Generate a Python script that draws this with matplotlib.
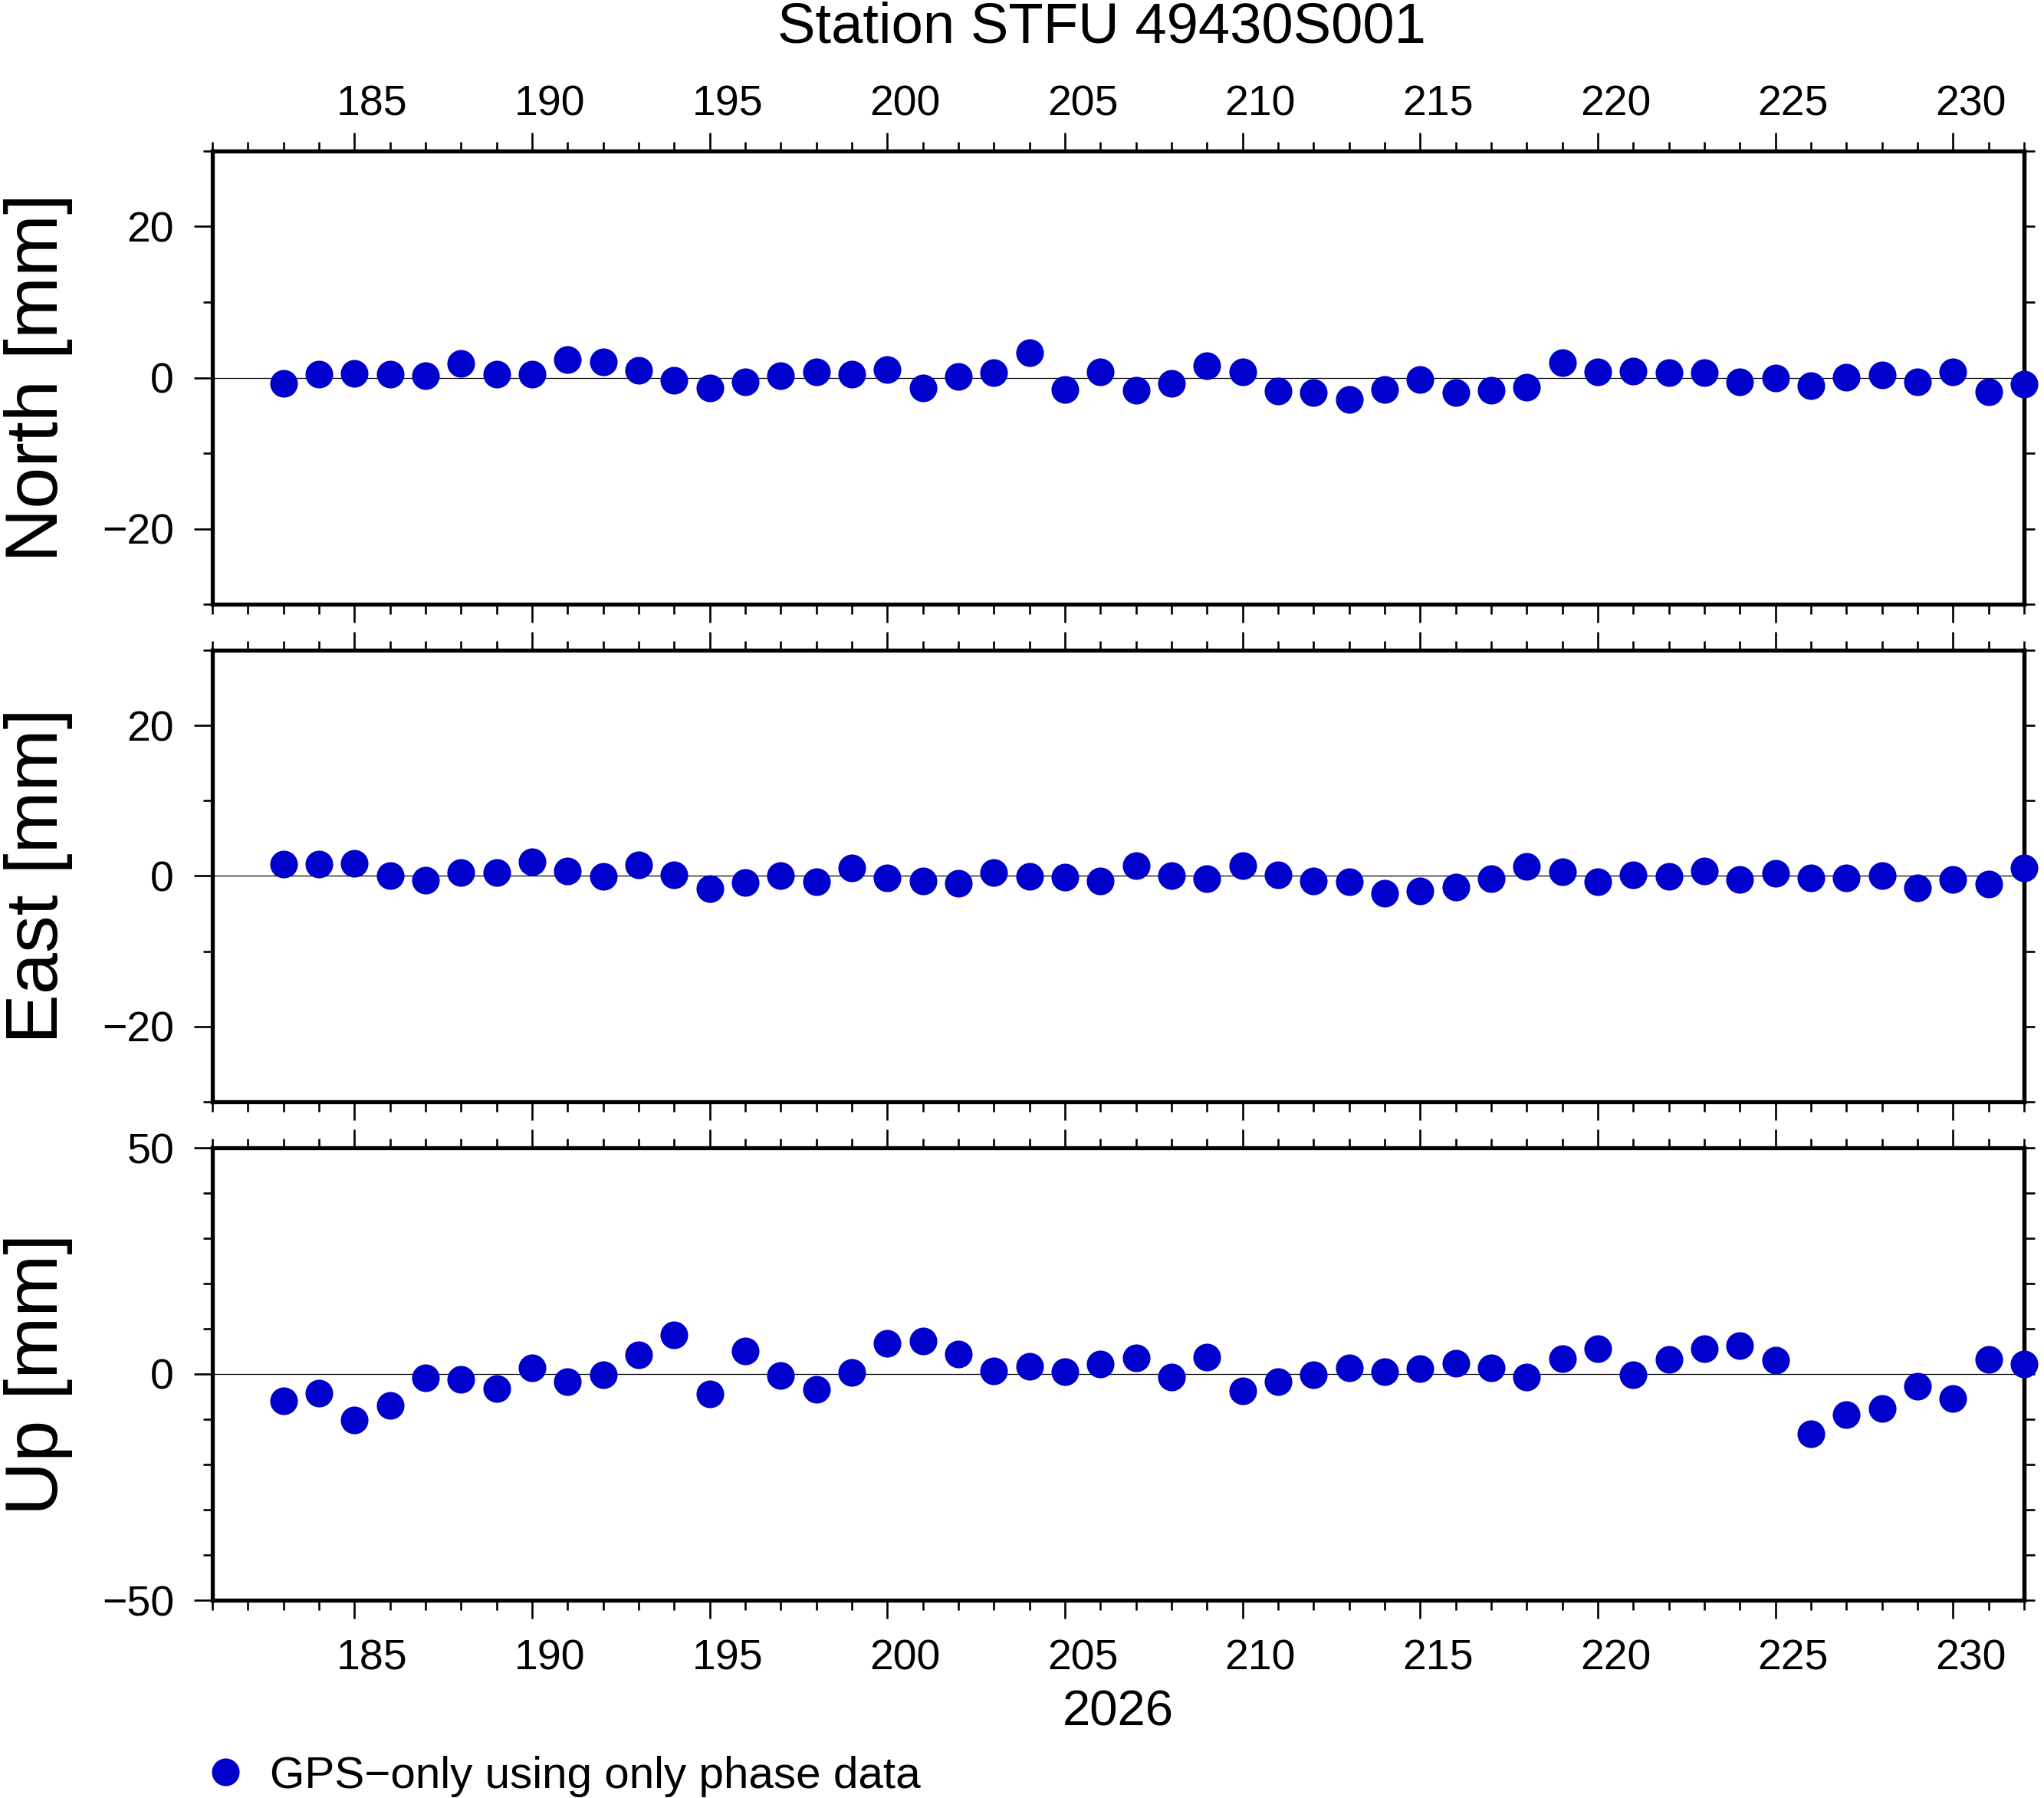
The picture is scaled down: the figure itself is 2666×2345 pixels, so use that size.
import matplotlib
matplotlib.use('Agg')
import matplotlib.pyplot as plt
from matplotlib.transforms import ScaledTranslation

# ---------------- data ----------------
days = list(range(183, 233))

north = [-0.8, 0.42, 0.59, 0.42, 0.29, 1.9, 0.49, 0.49, 2.41, 2.1,
         0.99, -0.32, -1.33, -0.52, 0.29, 0.79, 0.49, 1.09, -1.33, 0.19,
         0.69, 3.32, -1.53, 0.79, -1.63, -0.72, 1.6, 0.79, -1.73, -1.94,
         -2.85, -1.53, -0.22, -1.94, -1.63, -1.23, 2.0, 0.79, 0.89, 0.69,
         0.69, -0.52, -0.02, -1.03, 0.08, 0.39, -0.52, 0.79, -1.87, -0.86]

east = [1.6, 1.6, 1.7, 0.08, -0.52, 0.49, 0.49, 1.9, 0.69, -0.02,
        1.5, 0.19, -1.73, -0.83, 0.08, -0.72, 1.09, -0.22, -0.62, -0.93,
        0.49, -0.02, -0.12, -0.62, 1.4, 0.08, -0.32, 1.4, 0.19, -0.62,
        -0.72, -2.25, -1.94, -1.43, -0.32, 1.3, 0.59, -0.72, 0.19, -0.02,
        0.69, -0.42, 0.39, -0.22, -0.22, 0.08, -1.53, -0.42, -1.03, 1.09]

up = [-5.95, -4.26, -10.17, -6.9, -0.82, -1.21, -3.24, 1.32, -1.72, -0.2,
      4.2, 8.6, -4.43, 5.05, -0.37, -3.41, 0.31, 6.74, 7.24, 4.37,
      0.65, 1.66, 0.48, 2.17, 3.52, -0.7, 3.69, -3.75, -1.72, -0.2,
      1.32, 0.48, 1.16, 2.34, 1.32, -0.7, 3.35, 5.55, -0.2, 3.18,
      5.55, 6.23, 3.02, -13.22, -8.99, -7.64, -2.73, -5.44, 3.18, 2.17]

title = "Station STFU 49430S001"
year_label = "2026"
legend_label = "GPS\u2212only using only phase data"
panel_labels = ["North [mm]", "East [mm]", "Up [mm]"]
panel_series = [north, east, up]
panel_ylims = [(-30, 30), (-30, 30), (-50, 50)]
panel_major_y = [[-20, 0, 20], [-20, 0, 20], [-50, 0, 50]]
panel_minor_y = [list(range(-30, 31, 10)), list(range(-30, 31, 10)), list(range(-50, 51, 10))]
xtick_days = list(range(185, 231, 5))
xminor_days = list(range(181, 233))
xlim = (181, 232)

# ---------------- style ----------------
plt.rcParams['font.family'] = ['Liberation Sans', 'DejaVu Sans']
dot_color = '#0000CC'
W, H = 2666, 2345
DPI = 100
fig = plt.figure(figsize=(W / DPI, H / DPI), dpi=DPI)


def frac_rect(left_px, top_px, right_px, bottom_px):
    return [left_px / W, 1 - bottom_px / H, (right_px - left_px) / W, (bottom_px - top_px) / H]


rects = [frac_rect(277, 197, 2640, 788),
         frac_rect(277, 848, 2640, 1437),
         frac_rect(277, 1497, 2640, 2087)]

spine_lw = 3.8
tick_w = 1.9
maj_len = 17.5
min_len = 9
handles = []

for i, (rect, series, ylab) in enumerate(zip(rects, panel_series, panel_labels)):
    ax = fig.add_axes(rect)
    ax.axhline(0, color='black', lw=0.9, zorder=1)
    ln, = ax.plot(days, series, 'o', ms=26, color=dot_color, mec='none',
                  zorder=5, clip_on=False)
    handles.append(ln)
    ax.set_xlim(*xlim)
    ax.set_ylim(*panel_ylims[i])
    ax.set_xticks(xtick_days)
    ax.set_xticks(xminor_days, minor=True)
    ax.set_yticks(panel_major_y[i])
    ax.set_yticks(panel_minor_y[i], minor=True)
    for sp in ax.spines.values():
        sp.set_linewidth(spine_lw)

    xpad = 7 if i == 0 else 19
    ax.tick_params(axis='x', which='both', direction='out', top=True, bottom=True,
                   labeltop=(i == 0), labelbottom=(i == 2), width=tick_w)
    ax.tick_params(axis='x', which='major', length=maj_len, pad=xpad, labelsize=40)
    ax.tick_params(axis='x', which='minor', length=min_len)
    ax.tick_params(axis='y', which='both', direction='out', left=True, right=False,
                   width=tick_w)
    ax.tick_params(axis='y', which='major', length=maj_len, pad=18.5, labelsize=40)
    ax.tick_params(axis='y', which='minor', length=min_len)

    # labels centred in the day interval (half a day to the right of the tick)
    ax_w_in = rect[2] * W / DPI
    dx = 0.5 * ax_w_in / (xlim[1] - xlim[0])
    off = ScaledTranslation(dx, 0, fig.dpi_scale_trans)
    for tk in ax.xaxis.get_major_ticks():
        tk.label1.set_transform(tk.label1.get_transform() + off)
        tk.label2.set_transform(tk.label2.get_transform() + off)

    # right-hand ticks every 10 mm
    sec = ax.secondary_yaxis('right')
    sec.set_yticks(panel_minor_y[i])
    sec.tick_params(axis='y', direction='out', length=10, width=tick_w, labelright=False)
    for sp in sec.spines.values():
        sp.set_linewidth(spine_lw)

    ax.set_ylabel(ylab, fontsize=70)
    ax.yaxis.set_label_coords(-0.077, 0.5)

    if i == 2:
        ax.set_xlabel(year_label, fontsize=47)
        ax.xaxis.set_label_coords(0.5, -0.197)

fig.text(0.539, 1 - 55 / H, title, ha='center', va='baseline', fontsize=53.5)

fig.legend(handles=[handles[0]], labels=[legend_label], loc='center left',
           bbox_to_anchor=(0.0994, 0.0120), frameon=False, handlelength=1.0,
           handletextpad=0.49, borderpad=0, borderaxespad=0, fontsize=42,
           numpoints=1)

fig.savefig('out.png', dpi=DPI)
